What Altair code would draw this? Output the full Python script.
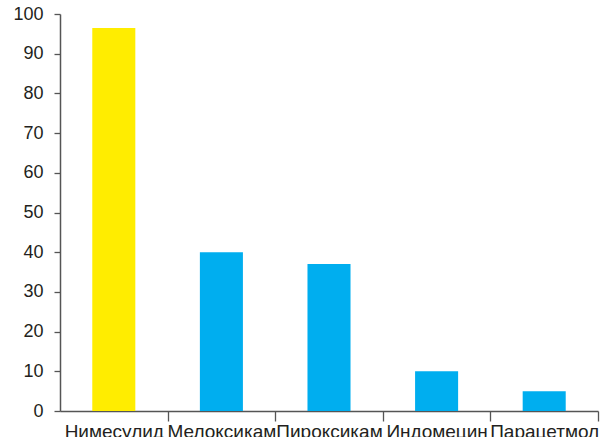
import altair as alt
import pandas as pd

drugs = ["Нимесулид", "Мелоксикам", "Пироксикам", "Индомецин", "Парацетмол"]
values = [96.5, 40, 37, 10, 5]
colors = ["#FFED00", "#00AEEF", "#00AEEF", "#00AEEF", "#00AEEF"]
y_ticks = [0, 10, 20, 30, 40, 50, 60, 70, 80, 90, 100]

df = pd.DataFrame({"drug": drugs, "value": values, "color": colors})

W, H = 538, 397
step = W / len(drugs)

chart = alt.Chart(df).mark_bar().encode(
    x=alt.X(
        "drug:N",
        sort=drugs,
        title=None,
        scale=alt.Scale(paddingInner=0.6, paddingOuter=0.3),
        axis=alt.Axis(
            labelAngle=0,
            labelFont="Liberation Sans",
            labelFontSize=19,
            labelColor="#231f20",
            labelPadding=1,
            labelOverlap=False,
            labelFlush=False,
            labelOffset=-step / 2,
            tickSize=10,
            tickOffset=step / 2,
            tickColor="#555555",
            tickWidth=1.3,
            domainColor="#555555",
            domainWidth=1.5,
            grid=False,
        ),
    ),
    y=alt.Y(
        "value:Q",
        title=None,
        scale=alt.Scale(domain=[0, 100], nice=False),
        axis=alt.Axis(
            values=y_ticks,
            labelFont="Liberation Sans",
            labelFontSize=18,
            labelColor="#231f20",
            labelPadding=11,
            tickSize=6,
            tickColor="#555555",
            tickWidth=1.3,
            domainColor="#555555",
            domainWidth=1.5,
            grid=False,
        ),
    ),
    color=alt.Color("color:N", scale=None, legend=None),
).properties(
    width=W,
    height=H,
    autosize=alt.AutoSizeParams(type="none"),
    padding={"left": 60, "top": 14, "right": 2, "bottom": 26},
).configure_view(stroke=None)

chart.save("out.html", embed_options={"renderer": "svg", "actions": False})
